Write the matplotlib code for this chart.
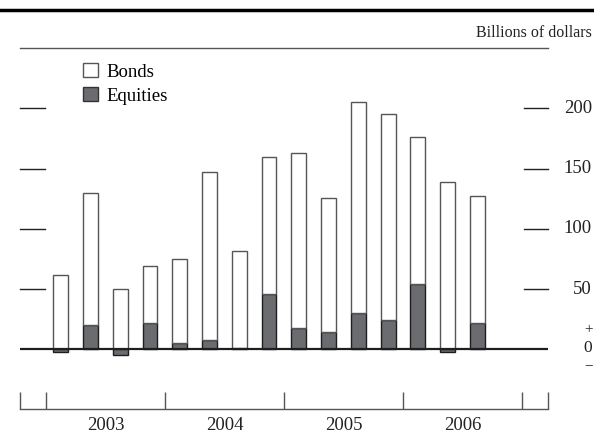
import matplotlib
matplotlib.use('Agg')
import matplotlib.pyplot as plt
from matplotlib.lines import Line2D
from matplotlib.patches import Patch
import matplotlib.transforms as mtransforms
import numpy as np

plt.rcParams['font.family'] = ['Liberation Serif', 'DejaVu Serif']

# quarterly data, 2003:Q1 - 2006:Q3 (billions of dollars)
quarters = ['2003Q1', '2003Q2', '2003Q3', '2003Q4',
            '2004Q1', '2004Q2', '2004Q3', '2004Q4',
            '2005Q1', '2005Q2', '2005Q3', '2005Q4',
            '2006Q1', '2006Q2', '2006Q3']
bonds = [62, 110, 50, 47, 70, 139, 81, 114, 145, 112, 175, 171, 122, 139, 105]
equities = [-2, 20, -5, 22, 5, 8, 1, 46, 18, 14, 30, 24, 54, -2, 22]
years = ['2003', '2004', '2005', '2006']
yticks = [50, 100, 150, 200]

x = np.arange(len(quarters))
bonds = np.array(bonds)
equities = np.array(equities)
bond_base = np.clip(equities, 0, None)

fig = plt.figure(figsize=(5.94, 4.33), dpi=100)
W, H = 594, 433
ax = fig.add_axes([20 / W, 1 - 409 / H, 528 / W, (409 - 48) / H])

eq_color = '#6b6c70'
ax.bar(x, equities, width=0.5, color=eq_color, edgecolor='#1e1e1e', linewidth=1.0, zorder=2)
ax.bar(x, bonds, width=0.5, bottom=bond_base, color='white', edgecolor='#555555',
       linewidth=1.0, zorder=2)
ax.axhline(0, color='#1e1e1e', lw=1.6, zorder=3)

xl0, xl1 = -1.37, 16.375
ax.set_xlim(xl0, xl1)
ax.set_ylim(-49.6, 250.2)

for s in ['left', 'right']:
    ax.spines[s].set_visible(False)
ax.spines['top'].set_color('#555555')
ax.spines['top'].set_linewidth(1.0)
ax.spines['bottom'].set_color('#555555')
ax.spines['bottom'].set_linewidth(1.0)

# y ticks drawn as short dashes on both sides
trans = mtransforms.blended_transform_factory(ax.transAxes, ax.transData)
ax.set_yticks([])
for v in yticks:
    ax.plot([0, 0.047], [v, v], color='#222222', lw=1.0, transform=trans, clip_on=False)
    ax.plot([0.955, 1.0], [v, v], color='#222222', lw=1.0, transform=trans, clip_on=False)
    ax.text(1.083, v, str(v), transform=trans, ha='right', va='center', fontsize=13.5,
            color='#222222', clip_on=False)
ax.text(1.076, 16, '+', transform=trans, ha='center', va='center', fontsize=11, color='#222222')
ax.text(1.076, 1, '0', transform=trans, ha='center', va='center', fontsize=12.5, color='#222222')
ax.text(1.076, -14, '\u2212', transform=trans, ha='center', va='center', fontsize=11, color='#222222')

# x axis: year boundaries and labels
bounds = [xl0, -0.5, 3.5, 7.5, 11.5, 15.5, xl1]
ax.set_xticks(bounds)
ax.set_xticklabels([])
ax.tick_params(axis='x', which='major', direction='in', length=12.5, width=1.0, color='#555555')
ax.set_xticks([1.5, 5.5, 9.5, 13.5], minor=True)
ax.set_xticklabels(years, minor=True, fontsize=13.5, color='#222222')
ax.tick_params(axis='x', which='minor', length=0, pad=6)

# legend
handles = [Patch(facecolor='white', edgecolor='#555555', lw=1.0, label='Bonds'),
           Patch(facecolor=eq_color, edgecolor='#333333', lw=1.0, label='Equities')]
fig.legend(handles=handles, loc='upper left', bbox_to_anchor=(83 / W, 1 - 63 / H),
           frameon=False, fontsize=13.5, handlelength=0.8, handleheight=0.8,
           handletextpad=0.45, labelspacing=0.33, borderaxespad=0, borderpad=0)

# header rule and units
fig.add_artist(Line2D([0, 1], [1 - 10 / H, 1 - 10 / H], color='black', lw=2.5))
fig.text(592 / W, 1 - 33 / H, 'Billions of dollars', ha='right', va='center',
         fontsize=11.5, color='#222222')

fig.savefig('out.png', dpi=100)
